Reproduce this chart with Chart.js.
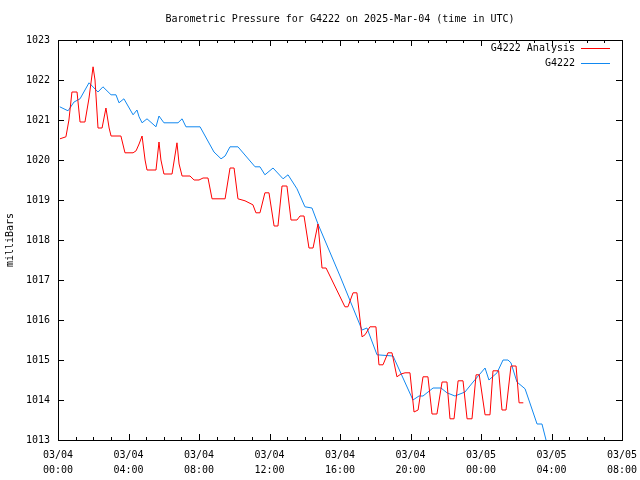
<!DOCTYPE html>
<html>
<head>
<meta charset="utf-8">
<script src="https://cdn.jsdelivr.net/npm/chart.js@4/dist/chart.umd.min.js"></script>
<style>
  body { margin: 0; background: #fff; }
  canvas { display: block; }
</style>
</head>
<body>
<canvas id="pressure-chart" width="640" height="480"></canvas>
<script>
// hours since 03/04 00:00 UTC, pressure in millibars
const analysisHours = [0.11, 0.45, 0.62, 0.79, 1.08, 1.25, 1.53, 1.76, 1.99, 2.10, 2.27, 2.50, 2.72, 2.90, 3.01, 3.57,
  3.80, 4.26, 4.43, 4.60, 4.77, 4.94, 5.05, 5.56, 5.73, 5.84, 6.01, 6.47, 6.75, 6.87, 7.04, 7.49, 7.72, 8.00, 8.23,
  8.51, 8.74, 9.48, 9.76, 9.99, 10.21, 10.61, 11.06, 11.23, 11.46, 11.74, 11.97, 12.26, 12.48, 12.71, 12.99, 13.22,
  13.56, 13.73, 13.96, 14.24, 14.47, 14.75, 14.98, 15.21, 16.28, 16.45, 16.74, 16.96, 17.25, 17.42, 17.70, 18.04,
  18.21, 18.44, 18.72, 18.95, 19.23, 19.46, 19.69, 19.97, 20.20, 20.43, 20.71, 20.99, 21.22, 21.50, 21.79, 22.07,
  22.24, 22.47, 22.70, 22.98, 23.21, 23.49, 23.72, 23.90, 24.23, 24.51, 24.68, 25.00, 25.19, 25.42, 25.70, 25.99,
  26.16, 26.40];
const analysisValues = [1020.53, 1020.58, 1021.00, 1021.70, 1021.70, 1020.95, 1020.95, 1021.55, 1022.33, 1022.00,
  1020.80, 1020.80, 1021.30, 1020.80, 1020.60, 1020.60, 1020.18, 1020.18, 1020.23, 1020.40, 1020.60, 1020.00, 1019.75,
  1019.75, 1020.45, 1020.00, 1019.65, 1019.65, 1020.43, 1019.90, 1019.60, 1019.60, 1019.50, 1019.50, 1019.55, 1019.55,
  1019.03, 1019.03, 1019.80, 1019.80, 1019.03, 1018.98, 1018.88, 1018.68, 1018.68, 1019.18, 1019.18, 1018.35, 1018.35,
  1019.35, 1019.35, 1018.50, 1018.50, 1018.60, 1018.60, 1017.80, 1017.80, 1018.40, 1017.30, 1017.30, 1016.33, 1016.33,
  1016.68, 1016.68, 1015.58, 1015.63, 1015.83, 1015.83, 1014.88, 1014.88, 1015.18, 1015.18, 1014.58, 1014.65, 1014.68,
  1014.68, 1013.70, 1013.75, 1014.58, 1014.58, 1013.65, 1013.65, 1014.45, 1014.45, 1013.53, 1013.53, 1014.48, 1014.48,
  1013.53, 1013.53, 1014.63, 1014.63, 1013.63, 1013.63, 1014.73, 1014.73, 1013.75, 1013.75, 1014.85, 1014.85, 1013.93,
  1013.93];

const stationHours = [0.10, 0.57, 0.91, 1.25, 1.76, 2.27, 2.55, 3.01, 3.29, 3.46, 3.74, 4.26, 4.48, 4.60, 4.77, 5.05,
  5.56, 5.73, 6.01, 6.81, 7.04, 7.26, 8.06, 8.85, 9.25, 9.48, 9.76, 10.21, 11.18, 11.46, 11.74, 12.20, 12.77, 13.05,
  13.56, 14.01, 14.41, 14.75, 16.00, 17.25, 17.53, 18.10, 19.01, 20.14, 20.48, 20.71, 21.28, 21.73, 22.07, 22.52,
  23.09, 23.55, 24.23, 24.45, 24.91, 25.25, 25.53, 25.70, 26.04, 26.50, 27.18, 27.46, 27.69, 27.91];
const stationValues = [1021.33, 1021.23, 1021.45, 1021.53, 1021.93, 1021.70, 1021.83, 1021.63, 1021.63, 1021.43,
  1021.53, 1021.13, 1021.25, 1021.08, 1020.93, 1021.03, 1020.83, 1021.10, 1020.93, 1020.93, 1021.03, 1020.83, 1020.83,
  1020.20, 1020.03, 1020.10, 1020.33, 1020.33, 1019.83, 1019.83, 1019.63, 1019.80, 1019.53, 1019.63, 1019.28, 1018.83,
  1018.80, 1018.40, 1017.10, 1015.75, 1015.80, 1015.13, 1015.10, 1014.00, 1014.10, 1014.10, 1014.30, 1014.30, 1014.18,
  1014.10, 1014.20, 1014.45, 1014.80, 1014.50, 1014.68, 1015.00, 1015.00, 1014.93, 1014.45, 1014.28, 1013.40, 1013.40,
  1013.00, 1012.75];

const xTickLabels = [['03/04', '00:00'], ['03/04', '04:00'], ['03/04', '08:00'], ['03/04', '12:00'], ['03/04', '16:00'],
  ['03/04', '20:00'], ['03/05', '00:00'], ['03/05', '04:00'], ['03/05', '08:00']];
const yTicks = [1013, 1014, 1015, 1016, 1017, 1018, 1019, 1020, 1021, 1022, 1023];

const titleText = 'Barometric Pressure for G4222 on 2025-Mar-04 (time in UTC)';
const monoFont = { family: '"DejaVu Sans Mono", "Liberation Mono", monospace', size: 10 };

function toPoints(xs, ys) {
    return xs.map((h, i) => ({ x: h, y: ys[i] }));
}

// gnuplot style frame: box, inward ticks, mirrored, title and legend
const gnuplotFrame = {
    id: 'gnuplotFrame',
    afterDatasetsDraw(chart) {
        const { ctx, chartArea: a, scales: { x, y } } = chart;
        ctx.save();
        ctx.strokeStyle = '#000';
        ctx.lineWidth = 1;
        ctx.beginPath();
        for (let h = 0; h <= 32; h++) {
            const px = Math.round(x.getPixelForValue(h)) + 0.5;
            const len = h % 4 === 0 ? 6 : 3;
            ctx.moveTo(px, a.bottom); ctx.lineTo(px, a.bottom - len);
            ctx.moveTo(px, a.top); ctx.lineTo(px, a.top + len);
        }
        yTicks.forEach(v => {
            const py = Math.round(y.getPixelForValue(v)) + 0.5;
            ctx.moveTo(a.left, py); ctx.lineTo(a.left + 6, py);
            ctx.moveTo(a.right, py); ctx.lineTo(a.right - 6, py);
        });
        ctx.stroke();
        ctx.strokeRect(Math.round(a.left) + 0.5, Math.round(a.top) + 0.5,
            Math.round(a.right - a.left), Math.round(a.bottom - a.top));

        ctx.fillStyle = '#000';
        ctx.font = monoFont.size + 'px ' + monoFont.family;
        ctx.textBaseline = 'middle';
        ctx.textAlign = 'center';
        ctx.fillText(titleText, (a.left + a.right) / 2, 19);

        ctx.textAlign = 'right';
        chart.data.datasets.forEach((ds, i) => {
            const ly = 48 + i * 15;
            ctx.fillStyle = '#000';
            ctx.fillText(ds.label, a.right - 47, ly);
            ctx.strokeStyle = ds.borderColor;
            ctx.beginPath();
            ctx.moveTo(a.right - 41, ly + 0.5);
            ctx.lineTo(a.right - 12, ly + 0.5);
            ctx.stroke();
        });
        ctx.restore();
    }
};

const ctx = document.getElementById('pressure-chart').getContext('2d');
const pressureChart = new Chart(ctx, {
    type: 'line',
    data: {
        datasets: [
            {
                label: 'G4222 Analysis',
                data: toPoints(analysisHours, analysisValues),
                borderColor: '#ff0000',
                borderWidth: 1,
                pointRadius: 0,
                tension: 0
            },
            {
                label: 'G4222',
                data: toPoints(stationHours, stationValues),
                borderColor: '#1188f0',
                borderWidth: 1,
                pointRadius: 0,
                tension: 0
            }
        ]
    },
    options: {
        responsive: false,
        animation: false,
        devicePixelRatio: 1,
        layout: { padding: { top: 40, right: 18, left: 0, bottom: 0 } },
        plugins: {
            legend: { display: false },
            tooltip: { enabled: false }
        },
        scales: {
            x: {
                type: 'linear',
                min: 0,
                max: 32,
                afterFit: s => {
                    s.height = 40;
                    s.paddingLeft = 0;
                    s.paddingRight = 0;
                },
                grid: { display: false },
                border: { display: false },
                ticks: {
                    stepSize: 4,
                    autoSkip: false,
                    maxRotation: 0,
                    padding: 0,
                    color: '#000',
                    font: { ...monoFont, lineHeight: 1.5 },
                    callback: v => xTickLabels[v / 4]
                }
            },
            y: {
                min: 1013,
                max: 1023,
                afterFit: s => { s.width = 58; },
                grid: { display: false },
                border: { display: false },
                title: {
                    display: true,
                    text: 'milliBars',
                    color: '#000',
                    font: monoFont,
                    padding: { top: 4, bottom: 0 }
                },
                ticks: {
                    stepSize: 1,
                    padding: 0,
                    color: '#000',
                    font: monoFont,
                    callback: v => String(v)
                }
            }
        }
    },
    plugins: [gnuplotFrame]
});
</script>
</body>
</html>
